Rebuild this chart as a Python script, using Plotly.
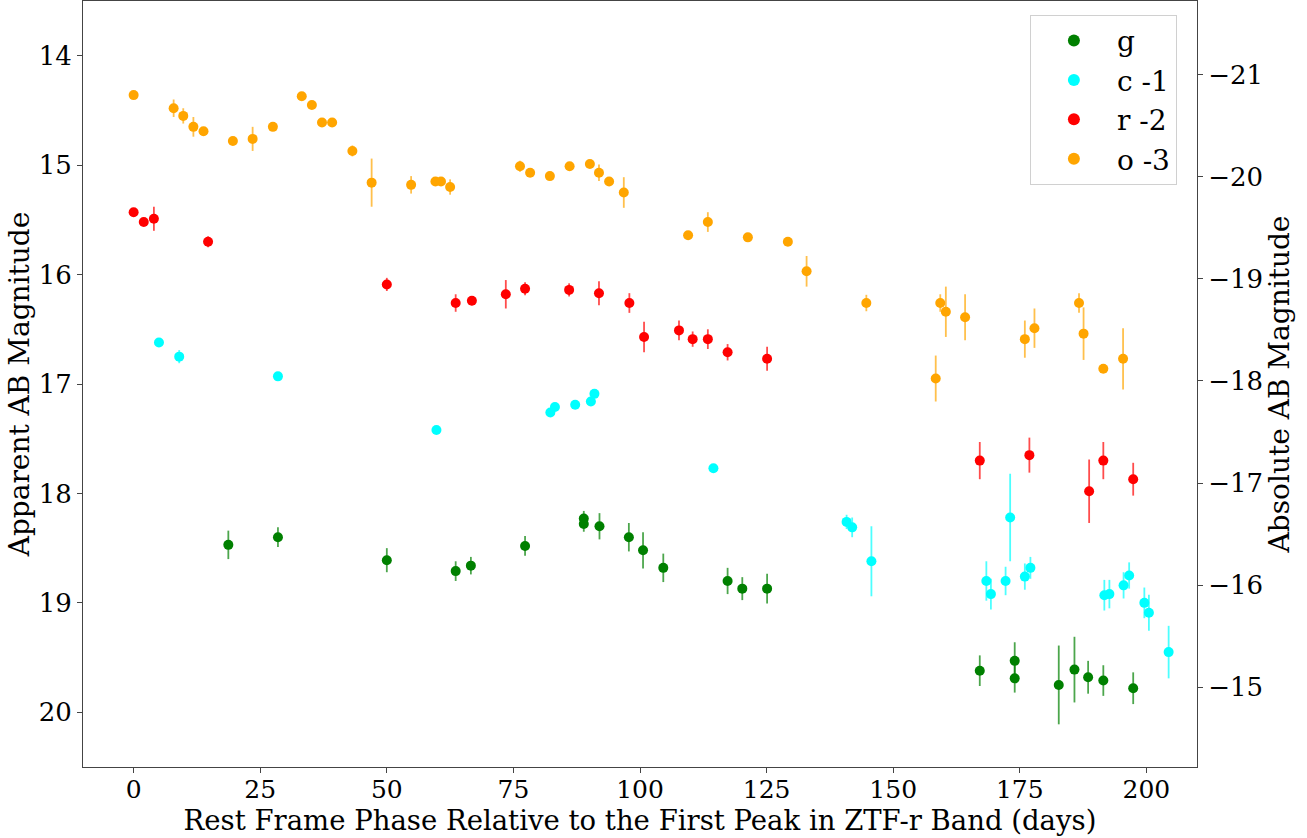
import plotly.graph_objects as go

# ---- data (rest-frame phase in days, apparent magnitude with offset, error) ----
g_phase = [18.7, 28.5, 50.0, 63.6, 66.6, 77.3, 88.9, 88.9, 92.0, 97.8, 100.6, 104.6,
           117.3, 120.2, 125.1, 167.1, 174.0, 174.0, 182.7, 185.8, 188.5, 191.5, 197.4]
g_mag = [18.47, 18.40, 18.61, 18.71, 18.66, 18.48, 18.23, 18.28, 18.30, 18.40, 18.52, 18.68,
         18.80, 18.87, 18.87, 19.62, 19.53, 19.69, 19.75, 19.61, 19.68, 19.71, 19.78]
g_err = [0.13, 0.09, 0.11, 0.09, 0.08, 0.09, 0.07, 0.07, 0.12, 0.13, 0.165, 0.13,
         0.12, 0.105, 0.135, 0.14, 0.17, 0.13, 0.36, 0.30, 0.15, 0.14, 0.145]

c_phase = [5.0, 9.0, 28.5, 59.8, 82.3, 83.2, 87.2, 90.3, 91.0, 114.5, 140.8, 141.9, 145.7,
           168.4, 169.3, 172.2, 173.1, 176.0, 177.1, 191.7, 192.7, 195.5, 196.6, 199.6,
           200.5, 204.4]
c_mag = [16.62, 16.75, 16.93, 17.42, 17.26, 17.21, 17.19, 17.16, 17.09, 17.77, 18.26, 18.31,
         18.62, 18.80, 18.92, 18.80, 18.22, 18.76, 18.68, 18.93, 18.92, 18.84, 18.75, 19.00,
         19.09, 19.45]
c_err = [0.02, 0.06, 0.02, 0.02, 0.02, 0.02, 0.02, 0.02, 0.02, 0.02, 0.065, 0.09, 0.32,
         0.18, 0.14, 0.13, 0.40, 0.12, 0.10, 0.14, 0.13, 0.12, 0.12, 0.14, 0.165, 0.24]

r_phase = [0.0, 2.0, 4.0, 14.7, 50.0, 63.6, 66.8, 73.5, 77.3, 86.0, 91.9, 97.9, 100.8,
           107.7, 110.4, 113.4, 117.3, 125.1, 167.1, 176.9, 188.7, 191.5, 197.4]
r_mag = [15.43, 15.52, 15.49, 15.70, 16.09, 16.26, 16.24, 16.18, 16.13, 16.14, 16.17, 16.26,
         16.57, 16.51, 16.59, 16.59, 16.71, 16.77, 17.70, 17.65, 17.98, 17.70, 17.87]
r_err = [0.03, 0.03, 0.11, 0.05, 0.06, 0.08, 0.04, 0.13, 0.06, 0.06, 0.11, 0.09, 0.14,
         0.09, 0.07, 0.09, 0.075, 0.11, 0.17, 0.16, 0.29, 0.17, 0.15]

o_phase = [0.0, 7.9, 9.8, 11.8, 13.8, 19.6, 23.5, 27.5, 33.2, 35.2, 37.2, 39.2, 43.2, 47.0,
           54.8, 59.6, 60.7, 62.5, 76.3, 78.3, 82.2, 86.1, 90.1, 91.9, 93.9, 96.8, 109.5,
           113.4, 121.3, 129.2, 132.9, 144.7, 158.4, 159.3, 160.4, 164.2, 176.0, 177.9,
           186.7, 187.6, 191.5, 195.4]
o_mag = [14.36, 14.48, 14.55, 14.65, 14.69, 14.78, 14.76, 14.65, 14.37, 14.45, 14.61, 14.61,
         14.87, 15.16, 15.18, 15.15, 15.15, 15.20, 15.01, 15.07, 15.10, 15.01, 14.99, 15.07,
         15.15, 15.25, 15.64, 15.52, 15.66, 15.70, 15.97, 16.26, 16.95, 16.26, 16.34, 16.39,
         16.59, 16.49, 16.26, 16.54, 16.86, 16.77]
o_err = [0.03, 0.08, 0.07, 0.09, 0.03, 0.02, 0.11, 0.03, 0.02, 0.02, 0.02, 0.02, 0.05, 0.22,
         0.08, 0.02, 0.02, 0.07, 0.05, 0.03, 0.02, 0.02, 0.02, 0.075, 0.03, 0.14, 0.02, 0.09,
         0.02, 0.02, 0.14, 0.075, 0.21, 0.08, 0.23, 0.21, 0.17, 0.18, 0.09, 0.24, 0.02, 0.28]

series_names = ["g", "c -1", "r -2", "o -3"]
series_colors = ["green", "cyan", "red", "orange"]
series_err_colors = ["rgba(0,128,0,0.7)", "rgba(0,255,255,0.7)",
                     "rgba(255,0,0,0.7)", "rgba(255,165,0,0.7)"]

x_ticks = [0, 25, 50, 75, 100, 125, 150, 175, 200]
y_ticks = [14, 15, 16, 17, 18, 19, 20]
y2_ticks = [-21, -20, -19, -18, -17, -16, -15]

FONT = "DejaVu Serif"

fig = go.Figure()
data = [(g_phase, g_mag, g_err), (c_phase, c_mag, c_err),
        (r_phase, r_mag, r_err), (o_phase, o_mag, o_err)]
for (px, pm, pe), name, col, ecol in zip(data, series_names, series_colors, series_err_colors):
    fig.add_trace(go.Scatter(
        x=px, y=pm, mode="markers", name=name,
        marker=dict(color=col, size=10, line=dict(width=0)),
        error_y=dict(type="data", array=pe, visible=True, color=ecol,
                     thickness=1.8, width=0),
    ))

# dummy trace to activate the secondary (absolute magnitude) axis
fig.add_trace(go.Scatter(x=[None], y=[None], yaxis="y2", showlegend=False,
                         hoverinfo="skip", mode="markers"))

axis_common = dict(showline=True, linecolor="#444", linewidth=1,
                   ticks="outside", ticklen=5, tickcolor="#444", showgrid=False,
                   zeroline=False)

fig.update_layout(
    width=1307, height=838,
    margin=dict(l=83, r=110, t=1, b=71),
    paper_bgcolor="white", plot_bgcolor="white",
    font=dict(family=FONT, color="black"),
    xaxis=dict(range=[-10, 210], tickvals=x_ticks, mirror=True,
               tickfont=dict(family=FONT, size=25, color="black"),
               ticklabelstandoff=-5,
               title=dict(text="Rest Frame Phase Relative to the First Peak in ZTF-r Band (days)",
                          font=dict(family=FONT, size=27.5), standoff=3),
               **axis_common),
    yaxis=dict(range=[20.5, 13.5], tickvals=y_ticks, mirror=True,
               tickfont=dict(family=FONT, size=26, color="black"),
               title=dict(text="Apparent AB Magnitude", font=dict(family=FONT, size=28),
                          standoff=0),
               **axis_common),
    yaxis2=dict(range=[-14.22, -21.72], tickvals=y2_ticks, overlaying="y", side="right",
                anchor="x", mirror=False,
                tickfont=dict(family=FONT, size=26, color="black"),
                title=dict(text="Absolute AB Magnitude", font=dict(family=FONT, size=28),
                           standoff=0),
                **axis_common),
    legend=dict(x=0.85, y=0.982, xanchor="left", yanchor="top",
                bgcolor="white", bordercolor="#d0d0d0", borderwidth=1,
                font=dict(family=FONT, size=28, color="black"),
                itemsizing="constant", itemwidth=76, tracegroupgap=4),
    showlegend=True,
)

fig.write_html("out.html")
